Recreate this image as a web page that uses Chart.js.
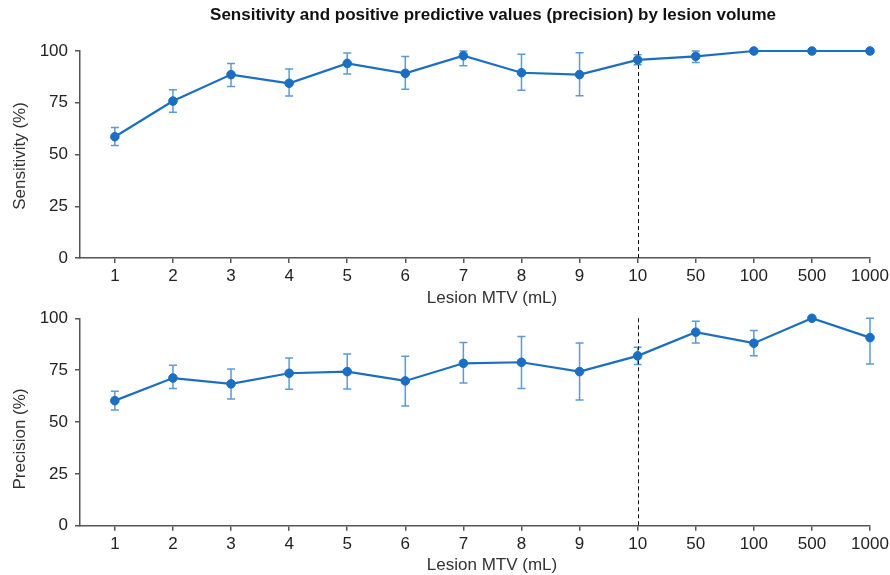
<!DOCTYPE html>
<html>
<head>
<meta charset="utf-8">
<script src="https://cdn.jsdelivr.net/npm/chart.js@4.4.1/dist/chart.umd.min.js"></script>
<style>
  html, body { margin: 0; padding: 0; background: #fff; }
  #wrap { position: relative; width: 890px; height: 575px; }
  .box { position: absolute; left: 0; width: 890px; }
  #topBox { top: 0; height: 310px; }
  #bottomBox { top: 300px; height: 275px; }
</style>
</head>
<body>
<div id="wrap">
  <div class="box" id="topBox"><canvas id="sensChart"></canvas></div>
  <div class="box" id="bottomBox"><canvas id="precChart"></canvas></div>
</div>
<script>
// lesion volume bins (mL)
const volumeLabels = ['1', '2', '3', '4', '5', '6', '7', '8', '9', '10', '50', '100', '500', '1000'];
const yTicks = [0, 25, 50, 75, 100];

// sensitivity (%) with confidence limits
const sensitivity = [58.6, 75.8, 88.6, 84.4, 94.0, 89.2, 97.7, 89.5, 88.6, 95.7, 97.4, 100, 100, 100];
const sensitivityLow = [54.3, 70.4, 82.8, 78.3, 88.9, 81.5, 92.9, 81.0, 78.4, 93.4, 94.5, 100, 100, 100];
const sensitivityHigh = [63.0, 81.3, 94.0, 91.3, 99.0, 97.4, 100, 98.4, 99.2, 98.2, 100, 100, 100, 100];

// precision (%) with confidence limits
const precision = [60.3, 71.2, 68.4, 73.5, 74.3, 69.8, 78.3, 78.8, 74.3, 81.9, 93.3, 88.0, 100, 90.7];
const precisionLow = [55.8, 66.1, 61.1, 65.8, 65.9, 57.7, 68.8, 66.1, 60.6, 77.7, 88.1, 82.0, 100, 78.0];
const precisionHigh = [64.8, 77.4, 75.6, 80.9, 82.8, 81.7, 88.3, 91.2, 88.1, 86.1, 98.6, 94.1, 100, 100];

// dashed marker at the 10 mL bin
const cutoffLabel = '10';

const lineColor = '#1b6ec2';
const errorColor = '#5b9bd5';
const axisColor = '#555';
const textColor = '#222';
const fontFamily = '"Liberation Sans", Arial, Helvetica, sans-serif';

// error bars drawn from the low/high arrays through the chart scales
function errorBarPlugin(low, high) {
    return {
        id: 'errorBars',
        beforeDatasetsDraw(chart) {
            const { ctx } = chart;
            const xs = chart.scales.x;
            const ys = chart.scales.y;
            ctx.save();
            ctx.strokeStyle = errorColor;
            ctx.lineWidth = 1.5;
            low.forEach((lo, i) => {
                const hi = high[i];
                if (hi - lo < 0.01) return;
                const px = xs.getPixelForValue(i + 1);
                const yl = ys.getPixelForValue(lo);
                const yh = ys.getPixelForValue(hi);
                ctx.beginPath();
                ctx.moveTo(px, yl); ctx.lineTo(px, yh);
                ctx.moveTo(px - 4, yl); ctx.lineTo(px + 4, yl);
                ctx.moveTo(px - 4, yh); ctx.lineTo(px + 4, yh);
                ctx.stroke();
            });
            ctx.restore();
        }
    };
}

// vertical dashed line at the cutoff bin
const cutoffPlugin = {
    id: 'cutoff',
    beforeDatasetsDraw(chart) {
        const { ctx, chartArea } = chart;
        const px = Math.round(chart.scales.x.getPixelForValue(volumeLabels.indexOf(cutoffLabel) + 1)) + 0.5;
        ctx.save();
        ctx.strokeStyle = '#111';
        ctx.lineWidth = 1;
        ctx.setLineDash([4, 3]);
        ctx.beginPath();
        ctx.moveTo(px, chartArea.top);
        ctx.lineTo(px, chartArea.bottom);
        ctx.stroke();
        ctx.restore();
    }
};

// titles placed like the reference figure
function textPlugin(items) {
    return {
        id: 'texts',
        afterDraw(chart) {
            const { ctx } = chart;
            items.forEach(t => {
                ctx.save();
                ctx.font = (t.bold ? 'bold ' : '') + t.size + 'px ' + fontFamily;
                ctx.fillStyle = t.color || textColor;
                ctx.textAlign = 'center';
                ctx.textBaseline = 'middle';
                ctx.translate(t.x, t.y);
                if (t.rotate) ctx.rotate(-Math.PI / 2);
                ctx.fillText(t.text, 0, 0);
                ctx.restore();
            });
        }
    };
}

function createPanel(canvasId, values, low, high, padTop, axisHeight, texts) {
    const ctx = document.getElementById(canvasId).getContext('2d');
    return new Chart(ctx, {
        type: 'line',
        data: {
            datasets: [{
                data: values.map((v, i) => ({ x: i + 1, y: v })),
                borderColor: lineColor,
                backgroundColor: lineColor,
                borderWidth: 2.2,
                pointRadius: 4.3,
                pointBorderWidth: 1,
                pointBorderColor: lineColor,
                pointBackgroundColor: lineColor,
                tension: 0,
                clip: false
            }]
        },
        options: {
            responsive: true,
            maintainAspectRatio: false,
            animation: false,
            layout: { padding: { top: padTop, right: 20, bottom: 0, left: 0 } },
            plugins: {
                legend: { display: false },
                tooltip: { enabled: false },
                title: { display: false }
            },
            scales: {
                x: {
                    type: 'linear',
                    min: 0.4,
                    max: volumeLabels.length,
                    afterBuildTicks: scale => {
                        scale.ticks = volumeLabels.map((_, i) => ({ value: i + 1 }));
                    },
                    afterFit: scale => {
                        scale.height = axisHeight;
                        scale.paddingRight = 0;
                        scale.paddingLeft = 0;
                    },
                    border: { display: true, color: axisColor, width: 1.5 },
                    grid: { drawOnChartArea: false, drawTicks: true, tickLength: 5, color: axisColor, lineWidth: 1.5 },
                    ticks: {
                        autoSkip: false,
                        maxRotation: 0,
                        padding: 3,
                        color: textColor,
                        font: { family: fontFamily, size: 17 },
                        callback: v => volumeLabels[Math.round(v) - 1]
                    }
                },
                y: {
                    min: 0,
                    max: 100,
                    afterBuildTicks: scale => {
                        scale.ticks = yTicks.map(v => ({ value: v }));
                    },
                    afterFit: scale => { scale.width = 80; },
                    border: { display: true, color: axisColor, width: 1.5 },
                    grid: { drawOnChartArea: false, drawTicks: true, tickLength: 5, color: axisColor, lineWidth: 1.5 },
                    ticks: {
                        padding: 7,
                        color: textColor,
                        font: { family: fontFamily, size: 17 }
                    }
                }
            }
        },
        plugins: [errorBarPlugin(low, high), cutoffPlugin, textPlugin(texts)]
    });
}

createPanel('sensChart', sensitivity, sensitivityLow, sensitivityHigh, 51, 52, [
    { text: 'Sensitivity and positive predictive values (precision) by lesion volume', x: 493, y: 15, size: 17, bold: true, color: '#111' },
    { text: 'Sensitivity (%)', x: 20, y: 156, size: 17, rotate: true, color: '#333' },
    { text: 'Lesion MTV (mL)', x: 492, y: 298, size: 17, color: '#333' }
]);

createPanel('precChart', precision, precisionLow, precisionHigh, 18.3, 49.3, [
    { text: 'Precision (%)', x: 20, y: 139, size: 17, rotate: true, color: '#333' },
    { text: 'Lesion MTV (mL)', x: 492, y: 265, size: 17, color: '#333' }
]);
</script>
</body>
</html>
